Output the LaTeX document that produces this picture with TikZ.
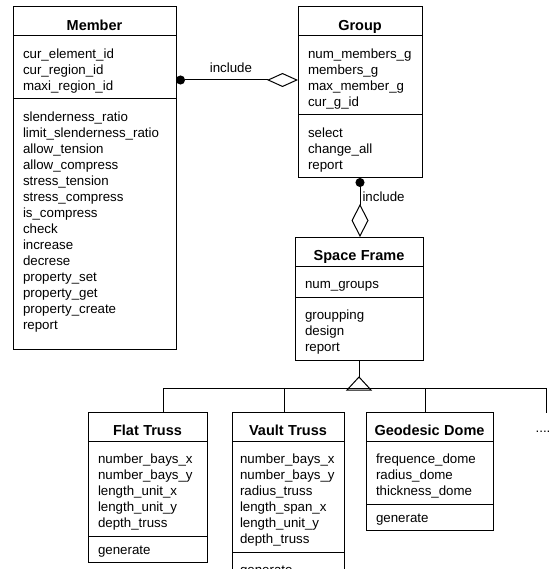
\documentclass[tikz,border=0pt]{standalone}
\usepackage{fontspec}
\setmainfont{Liberation Sans}
\usetikzlibrary{shapes.multipart,arrows.meta,positioning}

\newcommand{\upstrut}{\rule{0pt}{17pt}}
\newcommand{\dnstrut}{\rule[-3pt]{0pt}{3pt}}
\newcommand{\cname}[1]{\makebox[\linewidth]{\rule{0pt}{18pt}\smash{\fontsize{14.5}{16}\selectfont\bfseries #1}}}

\tikzset{
  classbox/.style={rectangle split, rectangle split parts=3, draw, line width=1pt,
    text width=#1, inner xsep=10pt, inner ysep=5pt, outer sep=0pt,
    anchor=north west, align=left},
  assoc/.style={line width=1pt, {Circle[length=9pt]}-{Diamond[open,length=31pt,width=14pt]}},
  assocv/.style={line width=1pt, {Circle[length=9pt]}-{Diamond[open,length=33pt,width=17pt]}},
  line/.style={line width=1pt},
}

\begin{document}
\begin{tikzpicture}[x=1pt,y=-1pt,font=\fontsize{13.3}{16}\selectfont]
\path[use as bounding box,clip] (0,0) rectangle (551,569);

% classes
\node[classbox=143pt] (member) at (13,7) {\cname{Member}
  \nodepart{two}\upstrut cur\_element\_id\\ cur\_region\_id\\ maxi\_region\_id\dnstrut
  \nodepart{three}\upstrut slenderness\_ratio\\ limit\_slenderness\_ratio\\ allow\_tension\\
    allow\_compress\\ stress\_tension\\ stress\_compress\\ is\_compress\\ check\\ increase\\
    decrese\\ property\_set\\ property\_get\\ property\_create\\ report\rule[-14pt]{0pt}{14pt}};

\node[classbox=104pt] (group) at (298,7) {\cname{Group}
  \nodepart{two}\upstrut num\_members\_g\\ members\_g\\ max\_member\_g\\ cur\_g\_id\dnstrut
  \nodepart{three}\upstrut select\\ change\_all\\ report\dnstrut};

\node[classbox=108pt] (sframe) at (295,237) {\cname{Space Frame}
  \nodepart{two}\upstrut num\_groups\dnstrut
  \nodepart{three}\upstrut groupping\\ design\\ report\dnstrut};

\node[classbox=99pt] (flat) at (88,412) {\cname{Flat Truss}
  \nodepart{two}\upstrut number\_bays\_x\\ number\_bays\_y\\ length\_unit\_x\\ length\_unit\_y\\ depth\_truss\dnstrut
  \nodepart{three}\rule{0pt}{13pt}generate};

\node[classbox=96pt,inner xsep=8pt] (vault) at (232,412) {\cname{Vault Truss}
  \nodepart{two}\upstrut number\_bays\_x\\ number\_bays\_y\\ radius\_truss\\ length\_span\_x\\ length\_unit\_y\\ depth\_truss\dnstrut
  \nodepart{three}\upstrut generate\dnstrut};

\node[classbox=107pt] (geo) at (366,412) {\cname{Geodesic Dome}
  \nodepart{two}\upstrut frequence\_dome\\ radius\_dome\\ thickness\_dome\dnstrut
  \nodepart{three}\rule{0pt}{13pt}generate};

% aggregation
\draw[assoc] ([yshift=-73pt]member.north east) -- ([yshift=-73pt]group.north west)
  node[pos=.45,above=6pt,inner sep=1pt] (inc1) {include};
\draw[assocv] (group.south) -- (group.south |- sframe.north)
  node[pos=.31,right,inner sep=2pt] (inc2) {include};

% inheritance
\draw[line] (sframe.south) -- ++(0,17) coordinate (apex);
\draw[line] (apex) -- ++(12,13) -- ++(-24,0) -- cycle;
\coordinate (more) at (546,413);
\draw[line] ([xshift=15.5pt]flat.north) -- ++(0,-24) -| (more);
\draw[line] ([xshift=-4pt]vault.north) -- ++(0,-24);
\draw[line] ([xshift=-4.5pt]geo.north) -- ++(0,-24);
\node[anchor=base,inner sep=0pt] (dots) at (543,432) {....};

\end{tikzpicture}
\end{document}
